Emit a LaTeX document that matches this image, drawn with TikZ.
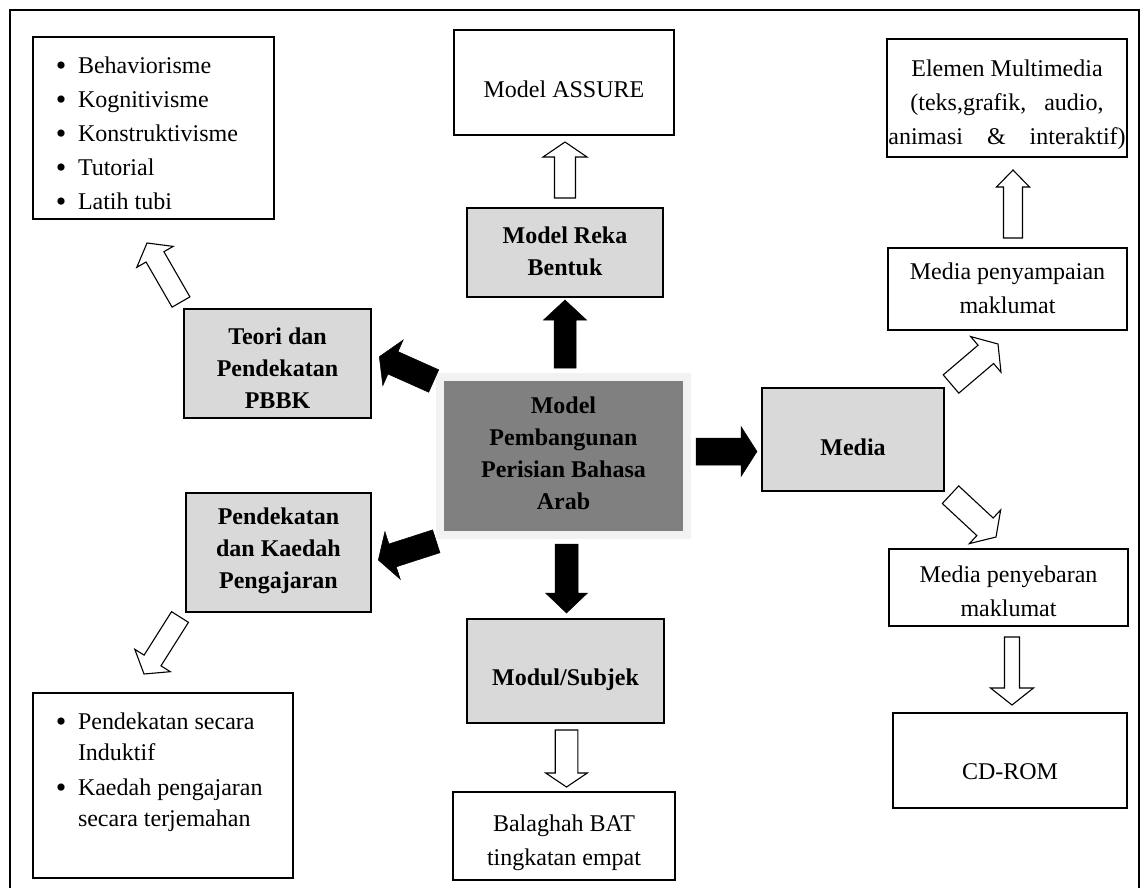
\documentclass[tikz,border=0pt]{standalone}
\usepackage{fontspec}
\setmainfont{Liberation Serif}
\usetikzlibrary{calc,fit}
\definecolor{keygray}{HTML}{D9D9D9}
\definecolor{coregray}{HTML}{808080}
\definecolor{corerim}{HTML}{F2F2F2}
% block arrow: #1 style, #2 tail, #3 tip, #4 half shaft width, #5 half head width, #6 head length
\newcommand\blockarrow[6]{%
  \coordinate (headbase) at ($(#3)!#6!(#2)$);
  \path[#1] ($(#2)!#4!90:(#3)$) -- ($(headbase)!#4!90:(#3)$) -- ($(headbase)!#5!90:(#3)$)
    -- (#3) -- ($(headbase)!#5!-90:(#3)$) -- ($(headbase)!#4!-90:(#3)$)
    -- ($(#2)!#4!-90:(#3)$) -- cycle;}
% centred lines of a box, given no size of their own and moved down by #1
\newcommand\boxtext[2]{\raisebox{-#1}[0pt][0pt]{\begin{tabular}{@{}c@{}}#2\end{tabular}}}
% bulleted list set flush left in a strip #2 wide, moved down by #1
\newcommand\boxlist[3]{\raisebox{-#1}[0pt][0pt]{\makebox[#2][l]{\begin{tabular}{@{}l@{}}#3\end{tabular}}}}
\newcommand\itembullet{\makebox[22pt][l]{\raisebox{-2pt}{\scalebox{1.25}{\textbullet}}}}
\begin{document}
\begin{tikzpicture}[x=1pt,y=-1pt,
  frame/.style={draw=black, line width=1.3pt},
  box/.style={draw=black, line width=1.2pt, fill=white, inner sep=0pt,
    font=\fontsize{24}{34}\selectfont},
  keybox/.style={box, fill=keygray, font=\fontsize{24}{32}\selectfont\bfseries},
  corebox/.style={draw=corerim, line width=8pt, fill=coregray, inner sep=0pt,
    font=\fontsize{24}{32}\selectfont\bfseries},
  solidarrow/.style={fill=black, draw=black, line width=0.5pt, line join=miter},
  hollowarrow/.style={fill=white, draw=black, line width=1.1pt, line join=miter}]
\path[use as bounding box, clip] (0,0) rectangle (1144,887);
\draw[frame] (10,892) -- (10,10) -- (1139,10) -- (1139,892);

% central box
\node[corebox, fit={(440,377) (687,534.5)}] (core)
  {\boxtext{5.5pt}{Model\\Pembangunan\\Perisian Bahasa\\Arab}};

% grey second-level boxes
\node[keybox, fit={(467,208) (663,297)}] (reka) {\boxtext{7pt}{Model Reka\\Bentuk}};
\node[keybox, fit={(184,309) (371,418)}] (teori) {\boxtext{13pt}{Teori dan\\Pendekatan\\PBBK}};
\node[keybox, fit={(186,493) (371,612)}] (pend) {\boxtext{3.5pt}{Pendekatan\\dan Kaedah\\Pengajaran}};
\node[keybox, fit={(467,619) (664,723)}] (modul) {\boxtext{14pt}{Modul/Subjek}};
\node[keybox, fit={(762,388) (944,491)}] (media) {\boxtext{15.5pt}{Media}};

% white outer boxes
\node[box, fit={(454,30) (674,135)}] (assure) {\boxtext{14pt}{Model ASSURE}};
\node[box, fit={(887,39) (1127,157)}] (elemen)
  {\boxtext{11.5pt}{Elemen Multimedia\hspace{11pt}\\(teks,grafik,\hspace{12pt} audio,\hspace{9pt}\\animasi \hspace{18pt}\&\hspace{18pt} interaktif)}};
\node[box, fit={(888,248) (1127,330)}] (deliver) {\boxtext{7pt}{Media penyampaian\\maklumat}};
\node[box, fit={(889,549) (1128,626)}] (spread) {\boxtext{11pt}{Media penyebaran\\maklumat}};
\node[box, fit={(893,713) (1127,808)}] (cdrom) {\boxtext{18pt}{CD-ROM}};
\node[box, fit={(453,792) (675,880)}] (balaghah) {\boxtext{11.5pt}{Balaghah BAT\\tingkatan empat}};

\node[box, fit={(33,37) (274,219)}, font=\fontsize{24}{34}\selectfont] (list1)
  {\boxlist{12.5pt}{195pt}{%
  \itembullet Behaviorisme\\
  \itembullet Kognitivisme\\
  \itembullet Konstruktivisme\\
  \itembullet Tutorial\\
  \itembullet Latih tubi}};

\node[box, fit={(33,693) (293,878)}, font=\fontsize{24}{31}\selectfont] (list2)
  {\boxlist{-7pt}{214pt}{%
  \itembullet Pendekatan secara\\
  \hspace*{22pt}Induktif\\[4pt]
  \itembullet Kaedah pengajaran\\
  \hspace*{22pt}secara terjemahan}};

% solid arrows out of the central box
\coordinate (upA) at ($(core.north)+(1.5,-5)$);
\coordinate (upB) at ($(reka.south)+(0,2.4)$);
\blockarrow{solidarrow}{upA}{upB}{11pt}{21.5pt}{20pt}
\coordinate (dnA) at ($(core.south)+(3,5.5)$);
\coordinate (dnB) at ($(modul.north)+(1,-5.4)$);
\blockarrow{solidarrow}{dnA}{dnB}{11.5pt}{21pt}{20pt}
\coordinate (rtA) at ($(core.east)+(5,-4.25)$);
\coordinate (rtB) at ($(media.west)+(-4.4,12)$);
\blockarrow{solidarrow}{rtA}{rtB}{13.5pt}{25pt}{16pt}
\coordinate (ulA) at ($(core.north west)+(-2.3,8)$);
\coordinate (ulB) at ($(teori.east)+(7.7,-6.8)$);
\blockarrow{solidarrow}{ulA}{ulB}{12.3pt}{25pt}{15pt}
\coordinate (dlA) at ($(core.south west)+(0.3,2.8)$);
\coordinate (dlB) at ($(pend.east)+(6.7,7.5)$);
\blockarrow{solidarrow}{dlA}{dlB}{12pt}{25pt}{15pt}

% hollow arrows to the outer boxes
\coordinate (h1A) at ($(reka.north)+(0,-9.4)$);
\coordinate (h1B) at ($(assure.south)+(1,6.4)$);
\blockarrow{hollowarrow}{h1A}{h1B}{10.5pt}{22pt}{15pt}
\coordinate (h2A) at ($(deliver.north)+(5.5,-9.4)$);
\coordinate (h2B) at ($(elemen.south)+(6,12.4)$);
\blockarrow{hollowarrow}{h2A}{h2B}{9.5pt}{16.5pt}{17pt}
\coordinate (h3A) at ($(teori.north west)+(-2.4,-6.4)$);
\coordinate (h3B) at ($(list1.south)+(-6.5,23.4)$);
\blockarrow{hollowarrow}{h3A}{h3B}{10.3pt}{21pt}{16pt}
\coordinate (h4A) at ($(pend.south west)+(-5.4,4.4)$);
\coordinate (h4B) at ($(list2.north)+(-19,-18.4)$);
\blockarrow{hollowarrow}{h4A}{h4B}{10pt}{21pt}{16pt}
\coordinate (h5A) at ($(modul.south)+(1,6.4)$);
\coordinate (h5B) at ($(balaghah.north)+(2.5,-4.4)$);
\blockarrow{hollowarrow}{h5A}{h5B}{11.3pt}{20.8pt}{14pt}
\coordinate (h6A) at ($(media.north east)+(6.4,-3.4)$);
\coordinate (h6B) at ($(deliver.south)+(-9.5,13.4)$);
\blockarrow{hollowarrow}{h6A}{h6B}{12pt}{23.4pt}{16pt}
\coordinate (h7A) at ($(media.south east)+(5.9,3.1)$);
\coordinate (h7B) at ($(spread.north)+(-12.5,-11.4)$);
\blockarrow{hollowarrow}{h7A}{h7B}{12pt}{23pt}{15pt}
\coordinate (h8A) at ($(spread.south)+(3.5,10.4)$);
\coordinate (h8B) at ($(cdrom.north)+(2,-7.4)$);
\blockarrow{hollowarrow}{h8A}{h8B}{7.5pt}{21.5pt}{17pt}
\end{tikzpicture}
\end{document}
